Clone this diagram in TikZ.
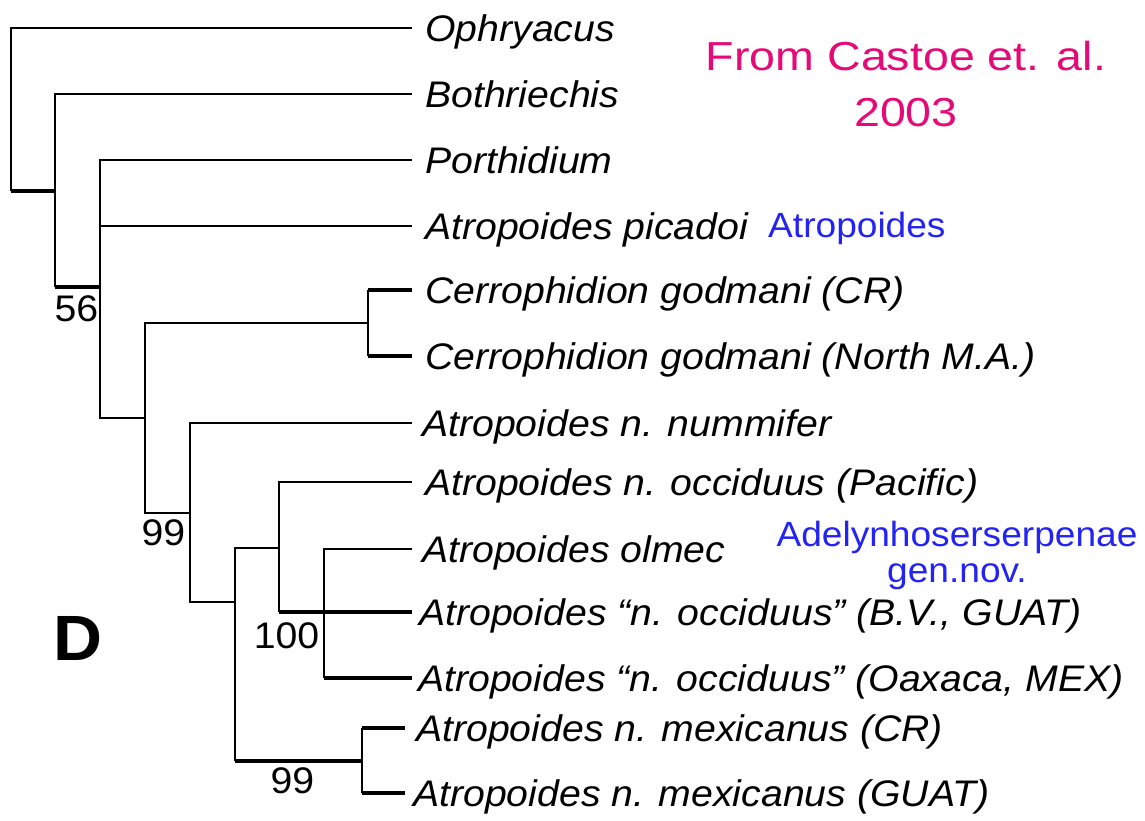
\documentclass[tikz,border=0pt]{standalone}
\usepackage{fontspec}
\setmainfont{Liberation Sans}[FakeStretch=1.06]
\newfontfamily\notefont{Liberation Sans}[FakeStretch=1.15]
\usetikzlibrary{positioning}
\definecolor{castoepink}{RGB}{229,10,120}
\definecolor{genusblue}{RGB}{35,35,245}
\begin{document}
\begin{tikzpicture}
[x=1pt, y=-1pt, node distance=12pt]
\tikzstyle{branch}=[line width=2pt]
\tikzstyle{stem}=[line width=3.4pt]
\tikzstyle{taxon}=[anchor=west, inner sep=0pt, text height=27pt, text depth=0pt,
  font=\fontsize{37pt}{44pt}\selectfont\itshape]
\tikzstyle{support}=[inner sep=0pt, font=\fontsize{37pt}{44pt}\selectfont]
\useasboundingbox (0,0) rectangle (1145,820);

% internal nodes
\coordinate (root) at (11,191);
\coordinate (n2)   at (55,191);
\coordinate (n3)   at (100,287);
\coordinate (n4)   at (145,418);
\coordinate (n5)   at (368,323);
\coordinate (n6)   at (190,513);
\coordinate (n7)   at (235,602);
\coordinate (n8)   at (279,548);
\coordinate (n10)  at (324,612);
\coordinate (n9)   at (362,761);

% leaf tips
\coordinate (t1)  at (412,28);
\coordinate (t2)  at (412,94);
\coordinate (t3)  at (412,160);
\coordinate (t4)  at (412,226);
\coordinate (t5)  at (412,290);
\coordinate (t6)  at (412,356);
\coordinate (t7)  at (412,423);
\coordinate (t8)  at (412,482);
\coordinate (t9)  at (412,549);
\coordinate (t10) at (412,612);
\coordinate (t11) at (412,678);
\coordinate (t12) at (405,728);
\coordinate (t13) at (405,793);

% taxa
\node[taxon, right=13pt of t1]  (ophry)   {Ophryacus};
\node[taxon, right=13pt of t2]  (bothr)   {Bothriechis};
\node[taxon, right=13pt of t3]  (porth)   {Porthidium};
\node[taxon, right=13pt of t4]  (picad)   {Atropoides picadoi};
\node[taxon, right=13pt of t5]  (cerCR)   {Cerrophidion godmani (CR)};
\node[taxon, right=13pt of t6]  (cerNMA)  {Cerrophidion godmani (North M.A.)};
\node[taxon, right=10pt of t7]  (nummi)   {Atropoides n. nummifer};
\node[taxon, right=13pt of t8]  (occPac)  {Atropoides n. occiduus (Pacific)};
\node[taxon, right=10pt of t9]  (olmec)   {Atropoides olmec};
\node[taxon, right=7pt of t10]  (occBV)   {Atropoides “n. occiduus” (B.V., GUAT)};
\node[taxon, right=6pt of t11]  (occOax)  {Atropoides “n. occiduus” (Oaxaca, MEX)};
\node[taxon, right=11pt of t12] (mexCR)   {Atropoides n. mexicanus (CR)};
\node[taxon, right=8pt of t13]  (mexGUAT) {Atropoides n. mexicanus (GUAT)};

% branches
\draw[branch] (t1) -| (root);
\draw[stem]   (root) -- (n2);
\draw[branch] (t2) -| (n2 |- n3);
\draw[stem]   (n2 |- n3) -- (n3);
\draw[branch] (t3) -| (n3 |- n4) -- (n4);
\draw[branch] (t4) -- (t4 -| n3);
\draw[branch] (n5) -| (n4 |- n6) -- (n6);
\draw[branch] (n5 |- t5) -- (n5 |- t6);
\draw[stem]   (n5 |- t5) -- (t5);
\draw[stem]   (n5 |- t6) -- (t6);
\draw[branch] (t7) -| (n6 |- n7) -- (n7);
\draw[branch] (n8) -| (n7 |- n9);
\draw[stem]   (n7 |- n9) -- (n9);
\draw[branch] (t8) -| (n8 |- n10);
\draw[stem]   (n8 |- n10) -- (n10) -- (t10);
\draw[branch] (t9) -| (n10 |- t11);
\draw[stem]   (n10 |- t11) -- (t11);
\draw[branch] (n9 |- t12) -- (n9 |- t13);
\draw[stem]   (n9 |- t12) -- (t12);
\draw[stem]   (n9 |- t13) -- (t13);

% bootstrap values
\node[support, below left=8pt and 1.5pt of n3]  (bs56)  {56};
\node[support, below left=6pt and 4.5pt of n6]  (bs99a) {99};
\node[support, below left=10pt and 4.5pt of n10] (bs100) {100};
\node[support, below left=6pt and 47.5pt of n9]  (bs99b) {99};

% panel letter and notes
\node[anchor=base west, inner sep=0pt, font=\fontsize{64pt}{70pt}\selectfont\bfseries]
  (panel) at (53,660) {D};
\node[anchor=base west, inner sep=0pt, text=genusblue, font=\fontsize{35pt}{41pt}\selectfont]
  (genAtro) at (768,237) {Atropoides};
\node[anchor=north, inner sep=0pt, align=center, text=genusblue,
  font=\fontsize{35pt}{36pt}\selectfont] (genNov) at (957,521) {Adelynhoserserpenae\\gen.nov.};
\node[anchor=north, inner sep=0pt, align=center, text=castoepink,
  font=\notefont\fontsize{40.5pt}{56pt}\selectfont] (source) at (906,41) {From Castoe et. al.\\2003};
\end{tikzpicture}
\end{document}
